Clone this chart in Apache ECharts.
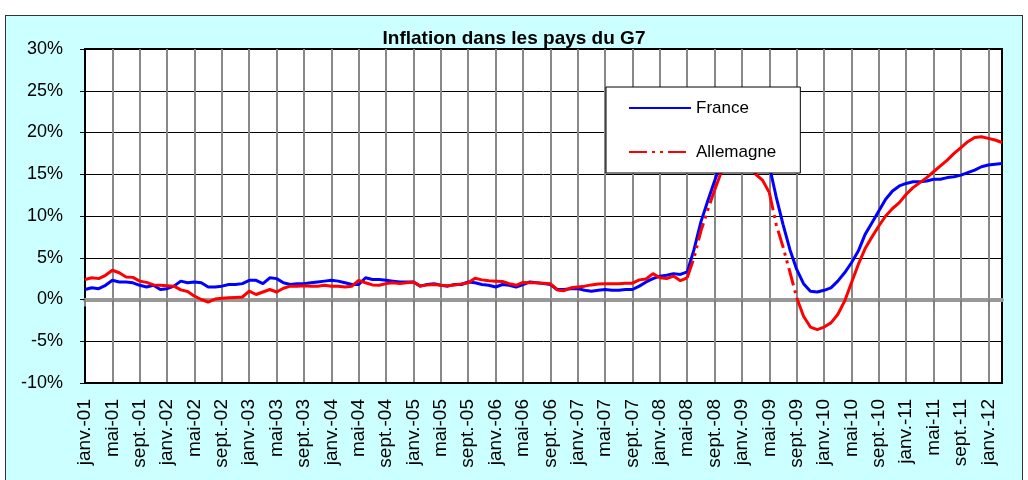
<!DOCTYPE html>
<html>
<head>
<meta charset="utf-8">
<script src="https://cdn.jsdelivr.net/npm/echarts@6/dist/echarts.min.js"></script>
<style>
  html, body { margin: 0; padding: 0; background: #fff; overflow: hidden; }
  #cadre {
    position: absolute; left: 5px; top: 15px; width: 1016px; height: 480px;
    background: #ccffff; border: 1px solid #333;
  }
  #chart { position: absolute; left: 0; top: 0; width: 1028px; height: 480px; }
</style>
</head>
<body>
<div id="cadre"></div>
<div id="chart"></div>
<script>
// noms des mois (format Excel)
var mois = ['janv.', 'févr.', 'mars', 'avr.', 'mai', 'juin', 'juil.', 'août', 'sept.', 'oct.', 'nov.', 'déc.'];
var anneeDebut = 2001;
var nbMois = 135; // janv.-01 -> mars-12

// glissement annuel, en %
var france = [
  1.2, 1.4, 1.3, 1.7, 2.3, 2.1, 2.1, 2.0, 1.7, 1.5, 1.7, 1.2,
  1.3, 1.6, 2.2, 2.0, 2.1, 2.0, 1.5, 1.5, 1.6, 1.8, 1.8, 1.9,
  2.3, 2.3, 1.9, 2.6, 2.5, 2.0, 1.8, 1.9, 1.9, 2.0, 2.1, 2.2,
  2.3, 2.2, 2.0, 1.8, 1.8, 2.6, 2.4, 2.4, 2.3, 2.2, 2.1, 2.1,
  2.1, 1.6, 1.8, 1.9, 1.7, 1.6, 1.8, 1.8, 2.1, 2.0, 1.8, 1.7,
  1.5, 1.8, 1.7, 1.5, 1.8, 2.1, 2.0, 1.9, 1.8, 1.2, 1.2, 1.3,
  1.3, 1.1, 1.0, 1.1, 1.2, 1.1, 1.1, 1.2, 1.2, 1.6, 2.1, 2.5,
  2.8, 2.9, 3.1, 3.0, 3.3, 6.0, 9.3, 11.8, 14.2, 16.5, 18.6, 20.2,
  21.0, 21.0, 20.2, 18.6, 16.0, 12.3, 9.0, 6.0, 3.6, 1.9, 1.0, 0.9,
  1.1, 1.4, 2.2, 3.2, 4.4, 5.8, 7.8, 9.2, 10.6, 12.0, 13.0, 13.6,
  13.9, 14.1, 14.1, 14.2, 14.4, 14.4, 14.6, 14.7, 14.9, 15.2, 15.5, 15.9,
  16.1, 16.2, 16.3
];
var allemagne = [
  2.4, 2.6, 2.5, 2.9, 3.5, 3.2, 2.7, 2.65, 2.2, 2.05, 1.75, 1.7,
  1.65, 1.6, 1.15, 0.95, 0.4, 0.0, -0.3, 0.05, 0.15, 0.2, 0.25, 0.3,
  1.0, 0.6, 0.9, 1.2, 0.9, 1.35, 1.6, 1.6, 1.65, 1.6, 1.6, 1.7,
  1.6, 1.6, 1.5, 1.6, 2.3, 2.0, 1.75, 1.7, 1.9, 2.0, 1.9, 2.0,
  2.1, 1.6, 1.75, 1.8, 1.7, 1.65, 1.75, 1.85, 2.0, 2.55, 2.35, 2.25,
  2.2, 2.15, 1.9, 1.7, 2.05, 2.0, 2.0, 1.95, 1.9, 1.15, 1.05, 1.4,
  1.5, 1.6, 1.75, 1.85, 1.9, 1.9, 1.9, 1.95, 1.95, 2.35, 2.45, 3.1,
  2.6, 2.5, 2.8, 2.25, 2.6, 5.0, 8.2, 10.7, 13.1, 15.3, 17.0, 17.8,
  17.6, 16.2, 15.0, 14.3, 12.8, 9.0, 6.3, 3.3, 0.2, -2.0, -3.3, -3.6,
  -3.3, -2.8, -1.8, -0.2, 2.0, 4.2, 6.1, 7.5, 8.8, 10.0, 10.9, 11.6,
  12.6, 13.4, 14.0, 14.6, 15.3, 16.0, 16.7, 17.5, 18.2, 18.9, 19.4, 19.5,
  19.3, 19.1, 18.8
];

var categories = [];
for (var i = 0; i < nbMois; i++) {
  var an = anneeDebut + Math.floor(i / 12);
  categories.push(mois[i % 12] + '-' + String(an).slice(2));
}

// Excel recommence le pointillé à chaque segment : seuls les segments longs
// (pentes fortes) montrent le tiret-point-point, le reste paraît continu
function decouper(vals, seuil) {
  var tirets = vals.map(function () { return null; });
  var plein = tirets.slice();
  for (var k = 0; k < vals.length - 1; k++) {
    var cible = Math.abs(vals[k + 1] - vals[k]) >= seuil ? tirets : plein;
    cible[k] = vals[k];
    cible[k + 1] = vals[k + 1];
  }
  return { tirets: tirets, plein: plein };
}
var all = decouper(allemagne, 2.3);

var police = 'Arial, "Liberation Sans", sans-serif';
var chart = echarts.init(document.getElementById('chart'));
chart.setOption({
  animation: false,
  title: {
    text: 'Inflation dans les pays du G7',
    left: 'center', top: 29, padding: 0,
    textStyle: { fontFamily: police, fontSize: 19, fontWeight: 'bold', color: '#000' }
  },
  legend: {
    data: ['France', 'Allemagne'],
    orient: 'vertical',
    left: 606, top: 87,
    padding: [11, 24, 11, 22],
    itemGap: 24,
    itemWidth: 62, itemHeight: 14,
    itemStyle: { opacity: 0, borderWidth: 0 },
    backgroundColor: '#fff', borderColor: '#000', borderWidth: 1,
    textStyle: { fontFamily: police, fontSize: 17, color: '#000', lineHeight: 20 }
  },
  grid: {
    left: 85, top: 49, right: 26, bottom: 97,
    show: true, backgroundColor: '#fff', borderColor: '#000', borderWidth: 2
  },
  xAxis: [{
    type: 'category',
    data: categories,
    boundaryGap: false,
    axisLine: { onZero: true, lineStyle: { color: '#999', width: 4 } },
    axisTick: { show: true, interval: 3, length: 7, lineStyle: { color: '#808080', width: 2 } },
    axisLabel: { show: false, interval: 3 },
    splitLine: { show: true, interval: 3, lineStyle: { color: '#888', width: 2 } }
  }, {
    type: 'category',
    data: categories,
    boundaryGap: false,
    position: 'bottom',
    axisLine: { onZero: false, lineStyle: { color: '#000', width: 2 } },
    axisTick: { show: false },
    axisLabel: {
      interval: 3, rotate: 90, margin: 16,
      fontFamily: police, fontSize: 19, color: '#000'
    },
    splitLine: { show: false }
  }],
  yAxis: {
    type: 'value',
    min: -10, max: 30, interval: 5,
    axisLine: { show: true, lineStyle: { color: '#000', width: 2 } },
    axisTick: { show: true, length: 5, lineStyle: { color: '#000' } },
    axisLabel: { formatter: '{value}%', margin: 22, fontFamily: police, fontSize: 18, color: '#000' },
    splitLine: { show: true, lineStyle: { color: '#000', width: 1 } }
  },
  series: [{
    name: 'France',
    type: 'line',
    xAxisIndex: 0,
    data: france,
    symbol: 'none',
    itemStyle: { color: '#0000ff' },
    lineStyle: { color: '#0000ff', width: 3 }
  }, {
    name: 'Allemagne',
    type: 'line',
    xAxisIndex: 0,
    data: all.tirets,
    symbol: 'none',
    itemStyle: { color: '#ff0000' },
    lineStyle: { color: '#ff0000', width: 3, type: [18, 5, 3, 5, 3, 5] }
  }, {
    name: 'Allemagne',
    type: 'line',
    xAxisIndex: 0,
    data: all.plein,
    symbol: 'none',
    itemStyle: { color: '#ff0000' },
    lineStyle: { color: '#ff0000', width: 3 }
  }]
});
</script>
</body>
</html>
